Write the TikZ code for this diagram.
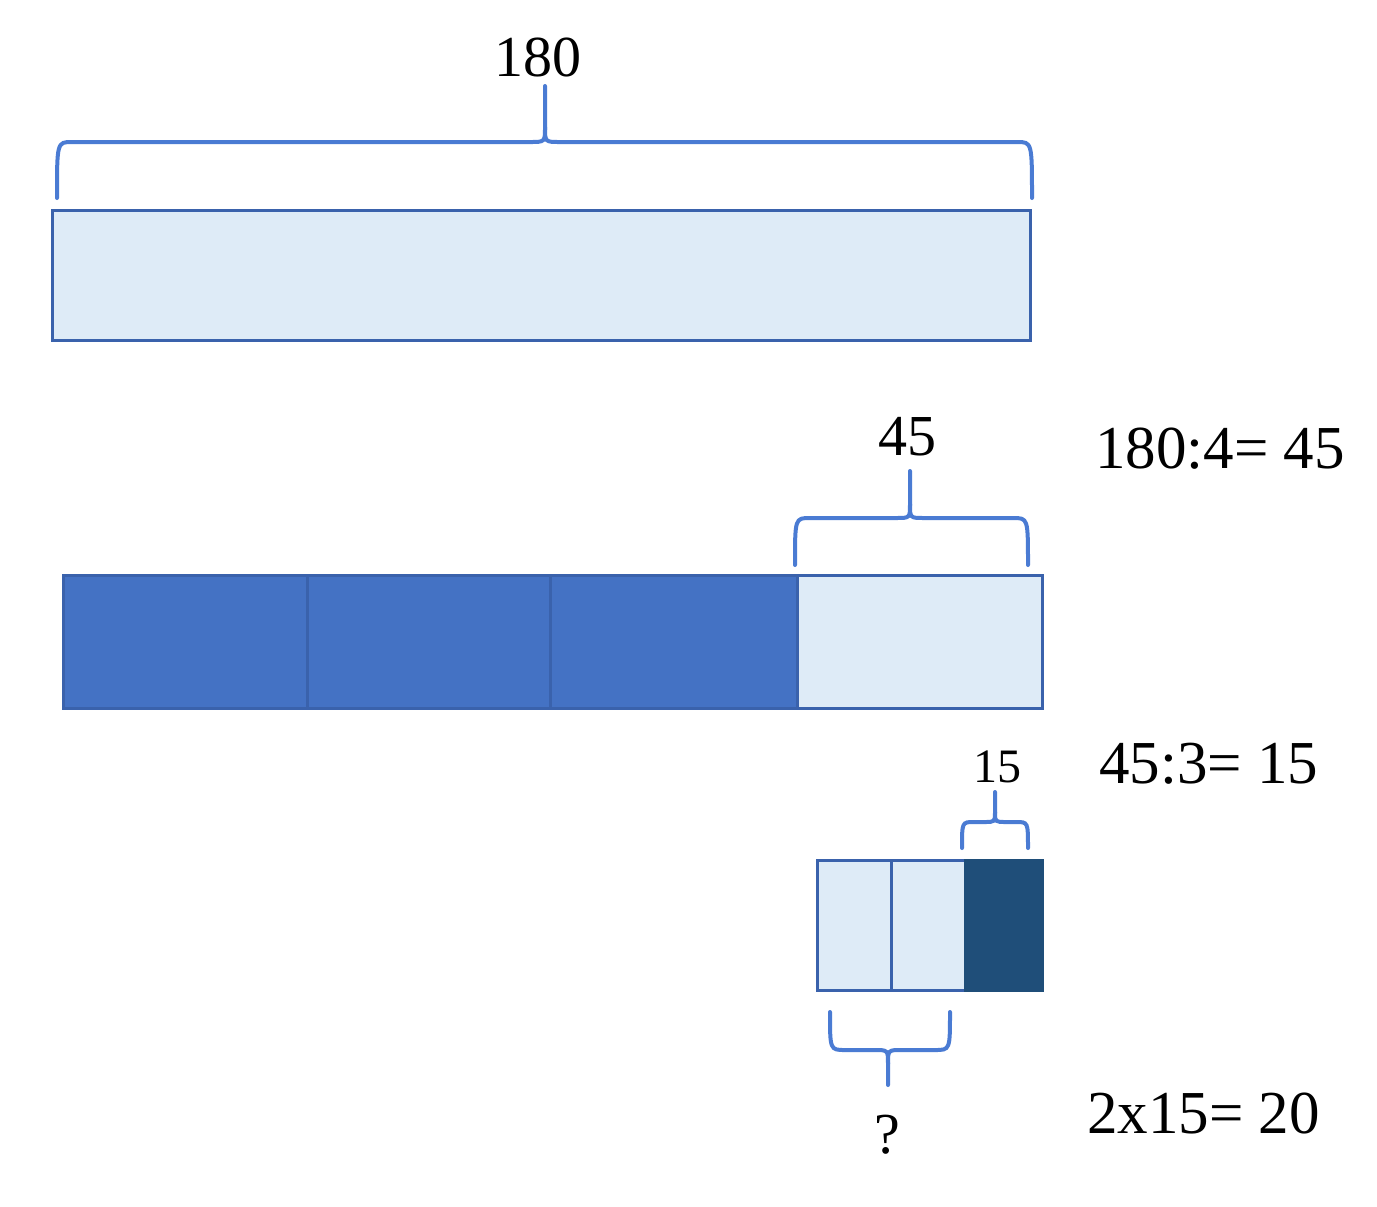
\documentclass[tikz,border=0pt]{standalone}
\usepackage{fontspec}
\setmainfont{Liberation Serif}

\definecolor{barlight}{HTML}{DEEBF7}
\definecolor{barmid}{HTML}{4472C4}
\definecolor{bardark}{HTML}{1F4E79}
\definecolor{barline}{HTML}{3A62AC}
\definecolor{bracecol}{HTML}{4A7BD3}

\tikzset{
    lightcell/.style={fill=barlight, draw=barline, line width=1.5pt},
    midcell/.style={fill=barmid, draw=barline, line width=1.5pt},
    darkcell/.style={fill=bardark, draw=bardark, line width=1.5pt},
    bracket/.style={draw=bracecol, line width=2pt, line cap=round},
    numlabel/.style={font=\fontsize{29}{34}\selectfont},
    smalllabel/.style={font=\fontsize{24}{29}\selectfont},
    calcline/.style={anchor=base west, font=\fontsize{30.5}{36}\selectfont}
}

\begin{document}
\begin{tikzpicture}[x=0.5pt, y=-0.5pt]

    \useasboundingbox (0,0) rectangle (1377,1206);

    % --- Top bar: the whole ---
    \coordinate (A1) at (52,210);
    \coordinate (A2) at (1030,340);
    \draw[lightcell] (A1) rectangle (A2);

    % Brace above the whole bar
    \draw[bracket] (57,198) .. controls (57,142) .. (72,142) -- (530,142)
        .. controls (545,142) .. (545,127) -- (545,86);
    \draw[bracket] (1032,198) .. controls (1032,142) .. (1017,142) -- (560,142)
        .. controls (545,142) .. (545,127);
    \node[numlabel] (total) at (538,57) {180};

    % --- Middle bar: four quarters ---
    \coordinate (B0) at (63,575);
    \coordinate (B1) at (307,708);
    \coordinate (B2) at (550,708);
    \coordinate (B3) at (797,708);
    \coordinate (B4) at (1042,708);
    \draw[midcell] (B0) rectangle (B1);
    \draw[midcell] (307,575) rectangle (B2);
    \draw[midcell] (550,575) rectangle (B3);
    \draw[lightcell] (797,575) rectangle (B4);

    % Brace above the last quarter
    \draw[bracket] (795,565) .. controls (795,518) .. (810,518) -- (896,518)
        .. controls (910,518) .. (910,504) -- (910,471);
    \draw[bracket] (1028,565) .. controls (1028,518) .. (1013,518) -- (924,518)
        .. controls (910,518) .. (910,504);
    \node[numlabel] (quarter) at (907,437) {45};

    % --- Bottom bar: the quarter in thirds ---
    \coordinate (C0) at (817,860);
    \coordinate (C1) at (891,990);
    \coordinate (C2) at (965,990);
    \coordinate (C3) at (1042,990);
    \draw[lightcell] (C0) rectangle (C1);
    \draw[lightcell] (891,860) rectangle (C2);
    \draw[darkcell] (965,860) rectangle (C3);

    % Brace above the dark third
    \draw[bracket] (962,848) .. controls (962,822) .. (974,822) -- (984,822)
        .. controls (995,822) .. (995,812) -- (995,792);
    \draw[bracket] (1028,848) .. controls (1028,822) .. (1016,822) -- (1006,822)
        .. controls (995,822) .. (995,812);
    \node[smalllabel] (third) at (997,767) {15};

    % Brace below the two light thirds
    \draw[bracket] (830,1012) .. controls (830,1050) .. (845,1050) -- (874,1050)
        .. controls (888,1050) .. (888,1064) -- (888,1085);
    \draw[bracket] (950,1012) .. controls (950,1050) .. (935,1050) -- (902,1050)
        .. controls (888,1050) .. (888,1064);
    \node[numlabel] (ask) at (887,1135) {?};

    % --- Calculations on the right ---
    \node[calcline] (step1) at (1088,468) {180:4= 45};
    \node[calcline] (step2) at (1092,783) {45:3= 15};
    \node[calcline] (step3) at (1080,1133) {2x15= 20};

\end{tikzpicture}
\end{document}
